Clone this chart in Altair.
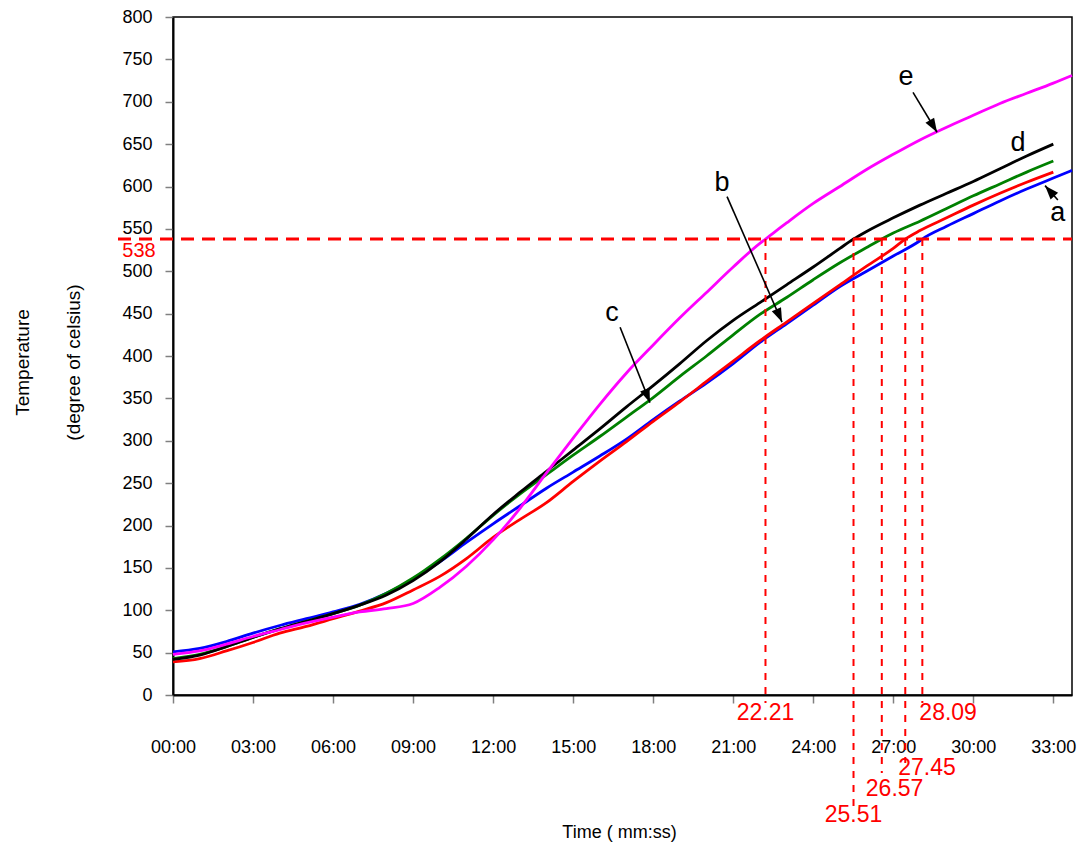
import math
import altair as alt
import pandas as pd

# ---- measured furnace temperatures (degree of celsius) per minute ----
MINUTES = list(range(34))

TEMP_A = [51, 55, 63, 73, 82, 90, 98, 107, 120, 137, 157, 180, 202, 223, 244, 263, 282,
          302, 325, 347, 368, 391, 416, 438, 460, 482, 500, 518, 536, 553, 568, 583, 597, 610]
TEMP_B = [39, 43, 52, 62, 73, 81, 90, 99, 109, 124, 140, 161, 186, 207, 227, 252, 276,
          299, 323, 346, 370, 394, 418, 440, 462, 484, 506, 527, 548, 563, 578, 592, 605, 617]
TEMP_C = [43, 48, 57, 68, 78, 87, 96, 106, 120, 138, 160, 185, 212, 237, 260, 283, 305,
          328, 351, 376, 400, 425, 449, 469, 490, 510, 528, 545, 559, 574, 589, 603, 617, 630]
TEMP_D = [42, 47, 57, 68, 78, 87, 96, 106, 118, 135, 157, 184, 213, 239, 264, 289, 314,
          340, 365, 391, 418, 442, 463, 484, 505, 527, 547, 563, 578, 592, 606, 621, 636, 650]
TEMP_E = [48, 52, 60, 69, 77, 85, 92, 98, 102, 108, 127, 152, 183, 220, 262, 303, 343,
          380, 413, 445, 475, 505, 533, 557, 580, 600, 620, 638, 655, 670, 684, 698, 710, 722]

SERIES = ["a", "b", "c", "d", "e"]
COLORS = ["#0000FF", "#FF0000", "#008000", "#000000", "#FF00FF"]

# time (minutes) at which each curve reaches the critical temperature
CRITICAL_TEMP = 538
CROSS_TIME = [28.09, 27.45, 26.57, 25.51, 22.21]
CROSS_LABEL = ["28.09", "27.45", "26.57", "25.51", "22.21"]

# last readings of the two longer records
END_TIME = 33.7
END_TEMP = {"a": 619, "e": 731}

TICK_MINUTES = list(range(0, 34, 3))
TICK_TEMPS = list(range(0, 801, 50))

# letter annotations: letter position, arrow tail, arrow tip (minutes, degC)
NOTE_LETTER = ["e", "d", "a", "b", "c"]
NOTE_T = [27.48, 31.68, 33.17, 20.58, 16.46]
NOTE_V = [729, 651, 569, 604, 451]
ARROW_LETTER = ["e", "a", "b", "c"]
ARROW_T0 = [27.74, 33.17, 20.77, 16.76]
ARROW_V0 = [711, 584, 588, 434]
ARROW_T1 = [28.64, 32.69, 22.83, 17.88]
ARROW_V1 = [664, 601, 440, 345]

# ---- layout ----
W, H = 899, 678
X_MAX, Y_MAX = 33.7, 800
FONT = "Liberation Sans"
RED = "#FF0000"
# per crossing label: (rule drop below axis, label y below axis, align, dx)
LABEL_STYLE = [(8, 18, "left", -3), (68, 73, "left", -7), (78, 94, "left", -16),
               (118, 120, "center", 0), (8, 18, "center", 0)]

rows = []
for name, temps in zip(SERIES, [TEMP_A, TEMP_B, TEMP_C, TEMP_D, TEMP_E]):
    for t, v in zip(MINUTES, temps):
        rows.append({"series": name, "t": t, "temp": v})
    rows.append({"series": name, "t": CROSS_TIME[SERIES.index(name)], "temp": CRITICAL_TEMP})
    if name in END_TEMP:
        rows.append({"series": name, "t": END_TIME, "temp": END_TEMP[name]})
curves = pd.DataFrame(rows).sort_values(["series", "t"])

x_scale = alt.Scale(domain=[0, X_MAX], nice=False, zero=False)
y_scale = alt.Scale(domain=[0, Y_MAX], nice=False)

x_axis = alt.Axis(
    values=TICK_MINUTES,
    labelExpr="(datum.value < 10 ? '0' : '') + datum.value + ':00'",
    labelFlush=False, labelPadding=35, labelFontSize=18, labelColor="black",
    labelFont=FONT, tickSize=8, tickColor="#808080", tickWidth=1.5,
    domainColor="black", domainWidth=2, grid=False,
    title="Time ( mm:ss)", titleFont=FONT, titleFontSize=18, titleFontWeight="normal",
    titleColor="black", titleX=446, titleY=137, titleBaseline="middle", titleAlign="center",
)
y_axis = alt.Axis(
    values=TICK_TEMPS, labelPadding=13, labelFontSize=18, labelColor="black",
    labelFont=FONT, tickSize=8, tickColor="#808080", tickWidth=1.5,
    domainColor="black", domainWidth=2, grid=False,
    title=["Temperature", "(degree of celsius)"], titleFont=FONT, titleFontSize=19,
    titleFontWeight="normal", titleColor="black", titleAngle=270, titleLineHeight=51,
    titleX=-151, titleY=345, titleAlign="center", titleBaseline="middle",
)

lines = alt.Chart(curves).mark_line(strokeWidth=2.8, clip=False, interpolate="monotone").encode(
    x=alt.X("t:Q", scale=x_scale, axis=x_axis),
    y=alt.Y("temp:Q", scale=y_scale, axis=y_axis),
    color=alt.Color("series:N", scale=alt.Scale(domain=SERIES, range=COLORS), legend=None),
    order="t:Q",
)

one = pd.DataFrame({"level": [CRITICAL_TEMP]})
crit_line = alt.Chart(one).mark_rule(color=RED, strokeWidth=3, strokeDash=[13, 8], clip=False).encode(
    y=alt.Y("level:Q", scale=y_scale), x=alt.value(-55), x2=alt.value(W)
)
crit_text = alt.Chart(one).mark_text(
    text=str(CRITICAL_TEMP), color=RED, fontSize=20, font=FONT, align="center",
    baseline="middle", dy=12, clip=False,
).encode(y=alt.Y("level:Q", scale=y_scale), x=alt.value(-34))

layers = [crit_line, crit_text]
for t, lab, (drop, ly, align, dx) in zip(CROSS_TIME, CROSS_LABEL, LABEL_STYLE):
    d = pd.DataFrame({"t": [t], "level": [CRITICAL_TEMP]})
    layers.append(
        alt.Chart(d).mark_rule(color=RED, strokeWidth=2, strokeDash=[7, 7], clip=False).encode(
            x=alt.X("t:Q", scale=x_scale), y=alt.Y("level:Q", scale=y_scale), y2=alt.value(H + drop)
        )
    )
    layers.append(
        alt.Chart(d).mark_text(text=lab, color=RED, fontSize=23, font=FONT, align=align,
                               dx=dx, baseline="middle", clip=False).encode(
            x=alt.X("t:Q", scale=x_scale), y=alt.value(H + ly)
        )
    )

notes = pd.DataFrame({"letter": NOTE_LETTER, "t": NOTE_T, "v": NOTE_V})
letters = alt.Chart(notes).mark_text(fontSize=27, font=FONT, color="black", baseline="middle",
                                     align="center").encode(
    x=alt.X("t:Q", scale=x_scale), y=alt.Y("v:Q", scale=y_scale), text="letter:N"
)

px_min, px_deg = W / X_MAX, H / Y_MAX
angles = []
for t0, v0, t1, v1 in zip(ARROW_T0, ARROW_V0, ARROW_T1, ARROW_V1):
    dx = (t1 - t0) * px_min
    dy = -(v1 - v0) * px_deg
    angles.append(math.degrees(math.atan2(dx, -dy)) % 360)
arrows = pd.DataFrame({"letter": ARROW_LETTER, "t0": ARROW_T0, "v0": ARROW_V0,
                       "t1": ARROW_T1, "v1": ARROW_V1, "angle": angles})
shafts = alt.Chart(arrows).mark_rule(color="black", strokeWidth=1.6).encode(
    x=alt.X("t0:Q", scale=x_scale), y=alt.Y("v0:Q", scale=y_scale), x2="t1:Q", y2="v1:Q"
)
heads = alt.Chart(arrows).mark_point(
    shape="M0,0L-0.36,1L0.36,1Z", filled=True, color="black", opacity=1, size=784, strokeWidth=0
).encode(
    x=alt.X("t1:Q", scale=x_scale), y=alt.Y("v1:Q", scale=y_scale),
    angle=alt.Angle("angle:Q", scale=None),
)

chart = alt.layer(lines, *layers, shafts, heads, letters).properties(
    width=W, height=H,
    padding={"left": 173, "top": 17, "right": 16, "bottom": 147},
    autosize=alt.AutoSizeParams(type="none"),
).configure_view(stroke="black", strokeWidth=1.5)

chart.save("out.html", embed_options={"renderer": "svg", "actions": False})
